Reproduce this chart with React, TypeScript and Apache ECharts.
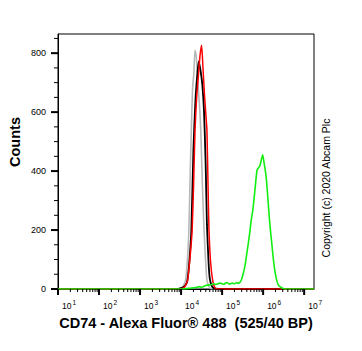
import React, { useEffect, useRef } from "react";
import * as echarts from "echarts";

// x values are log10(fluorescence)
const grayX = [1.0, 3.9, 4.0, 4.05, 4.11, 4.16, 4.19, 4.22, 4.25, 4.28, 4.31, 4.34, 4.37, 4.41, 4.45, 4.48, 4.52, 4.56, 4.6, 4.63, 4.68, 4.75, 7.24];
const grayY = [0, 0, 4, 10, 30, 110, 200, 380, 539, 680, 730, 810, 790, 700, 620, 539, 350, 200, 90, 30, 8, 0, 0];

const blackX = [1.0, 3.9, 4.0, 4.05, 4.1, 4.15, 4.2, 4.25, 4.3, 4.35, 4.4, 4.43, 4.47, 4.52, 4.56, 4.6, 4.63, 4.67, 4.7, 4.75, 4.8, 4.9, 7.24];
const blackY = [0, 0, 3, 6, 12, 26, 90, 200, 470, 640, 735, 772, 745, 690, 600, 420, 220, 90, 35, 10, 3, 0, 0];

const redX = [1.0, 3.95, 4.05, 4.1, 4.16, 4.22, 4.27, 4.31, 4.34, 4.38, 4.42, 4.46, 4.5, 4.53, 4.57, 4.6, 4.63, 4.66, 4.68, 4.72, 4.77, 4.82, 4.9, 7.24];
const redY = [0, 0, 3, 10, 30, 110, 200, 380, 539, 650, 720, 790, 827, 760, 660, 600, 539, 330, 200, 90, 30, 5, 0, 0];

const greenX = [1.0, 4.0, 4.2, 4.35, 4.45, 4.5, 4.6, 4.7, 4.8, 4.85, 4.95, 5.05, 5.1, 5.19, 5.25, 5.3, 5.36, 5.4, 5.44, 5.48, 5.52, 5.56, 5.6, 5.64, 5.68, 5.71, 5.75, 5.8, 5.85, 5.88, 5.92, 5.96, 5.99, 6.02, 6.05, 6.08, 6.12, 6.16, 6.21, 6.25, 6.29, 6.33, 6.37, 6.43, 6.49, 6.6, 7.24];
const greenY = [0, 0, 2, 5, 8, 6, 12, 14, 18, 15, 20, 16, 22, 17, 20, 18, 22, 19, 24, 35, 55, 81, 118, 156, 198, 234, 269, 335, 403, 410, 418, 440, 455, 430, 405, 372, 300, 225, 156, 100, 58, 30, 14, 6, 2, 0, 0];

const decades = [1, 2, 3, 4, 5, 6, 7];
const yMajorTicks = [0, 200, 400, 600, 800];
const X_MIN = 1;
const X_MAX = 7.24;
const Y_MIN = 0;
const Y_MAX = 865;

const FONT = "'Liberation Sans', Arial, sans-serif";

function pairs(xs: number[], ys: number[]) {
  return xs.map((x, i) => [x, ys[i]]);
}

export default function App() {
  const ref = useRef<HTMLDivElement>(null);
  useEffect(() => {
    document.body.style.margin = "0";
    if (!ref.current) return;
    const chart = echarts.init(ref.current, null, { renderer: "svg" });

    const xTicks: number[][] = [];
    decades.forEach((d) => {
      xTicks.push([d, 1]);
      for (let k = 2; k <= 9; k++) {
        const v = d + Math.log10(k);
        if (v <= X_MAX) xTicks.push([v, 0]);
      }
    });
    const yTicks: number[][] = [];
    for (let v = 0; v <= Y_MAX; v += 50) {
      yTicks.push([v, yMajorTicks.includes(v) ? 1 : 0]);
    }

    const option: any = {
      animation: false,
      backgroundColor: "#fff",
      grid: {
        left: 58,
        right: 48,
        top: 34,
        bottom: 62,
        show: true,
        borderColor: "#000",
        borderWidth: 1,
        backgroundColor: "transparent",
      },
      xAxis: {
        type: "value",
        min: X_MIN,
        max: X_MAX,
        interval: 1,
        axisLine: { onZero: false, lineStyle: { color: "#000", width: 1 } },
        axisTick: { show: false },
        splitLine: { show: false },
        axisLabel: {
          align: "left",
          margin: 10,
          color: "#000",
          formatter: (v: number) =>
            Math.abs(v - Math.round(v)) < 1e-6 ? `{b|10}{s|${Math.round(v)}}` : "",
          rich: {
            b: { fontSize: 8.5, fontFamily: FONT, color: "#000", lineHeight: 14, padding: [0, 0, 0, 4] },
            s: { fontSize: 6.5, fontFamily: FONT, color: "#000", lineHeight: 8, verticalAlign: "top", padding: [0, 0, 0, 1] },
          },
        },
      },
      yAxis: {
        type: "value",
        min: Y_MIN,
        max: Y_MAX,
        interval: 200,
        axisLine: { show: true, lineStyle: { color: "#000", width: 1 } },
        axisTick: { show: false },
        splitLine: { show: false },
        axisLabel: {
          margin: 12,
          color: "#000",
          fontSize: 9,
          fontFamily: FONT,
          formatter: (v: number) => (v % 200 === 0 ? String(v) : ""),
        },
      },
      series: [
        {
          type: "line",
          data: pairs(grayX, grayY),
          showSymbol: false,
          smooth: 0.2,
          lineStyle: { color: "#b8b8b8", width: 1.6 },
          z: 2,
        },
        {
          type: "line",
          data: pairs(blackX, blackY),
          showSymbol: false,
          smooth: 0.2,
          lineStyle: { color: "#000000", width: 1.8 },
          z: 3,
        },
        {
          type: "line",
          data: pairs(redX, redY),
          showSymbol: false,
          smooth: 0.2,
          lineStyle: { color: "#ff0000", width: 1.5 },
          z: 4,
        },
        {
          type: "line",
          data: pairs(greenX, greenY),
          showSymbol: false,
          smooth: 0.2,
          lineStyle: { color: "#11ee11", width: 1.6 },
          z: 4,
        },
        {
          type: "custom",
          clip: false,
          silent: true,
          data: xTicks,
          renderItem: (params: any, api: any) => {
            const v = api.value(0);
            const major = api.value(1) === 1;
            const p = api.coord([v, Y_MIN]);
            const len = major ? 6 : 3;
            return {
              type: "line",
              shape: { x1: p[0], y1: p[1], x2: p[0], y2: p[1] + len },
              style: { stroke: "#000", lineWidth: major ? 2 : 1 },
            };
          },
          z: 5,
        },
        {
          type: "custom",
          clip: false,
          silent: true,
          data: yTicks.map((t) => [X_MIN, t[0], t[1]]),
          encode: { x: 0, y: 1 },
          renderItem: (params: any, api: any) => {
            const v = api.value(1);
            const major = api.value(2) === 1;
            const p = api.coord([X_MIN, v]);
            const len = major ? 7 : 4;
            return {
              type: "line",
              shape: { x1: p[0] - len, y1: p[1], x2: p[0], y2: p[1] },
              style: { stroke: "#000", lineWidth: major ? 2 : 1 },
            };
          },
          z: 5,
        },
      ],
      graphic: [
        {
          type: "text",
          x: 15,
          y: 142,
          rotation: Math.PI / 2,
          style: {
            text: "Counts",
            font: `bold 14.5px ${FONT}`,
            fill: "#000",
            align: "center",
            verticalAlign: "middle",
          },
        },
        {
          type: "text",
          x: 186,
          y: 322.5,
          style: {
            text: "CD74 - Alexa Fluor® 488  (525/40 BP)",
            font: `bold 14.5px ${FONT}`,
            fill: "#000",
            align: "center",
            verticalAlign: "middle",
          },
        },
        {
          type: "text",
          x: 325.5,
          y: 188,
          rotation: Math.PI / 2,
          style: {
            text: "Copyright (c) 2020 Abcam Plc",
            font: `10.5px ${FONT}`,
            fill: "#000",
            align: "center",
            verticalAlign: "middle",
          },
        },
      ],
    };
    chart.setOption(option);
    return () => chart.dispose();
  }, []);
  return <div ref={ref} style={{ width: 362, height: 351 }} />;
}
